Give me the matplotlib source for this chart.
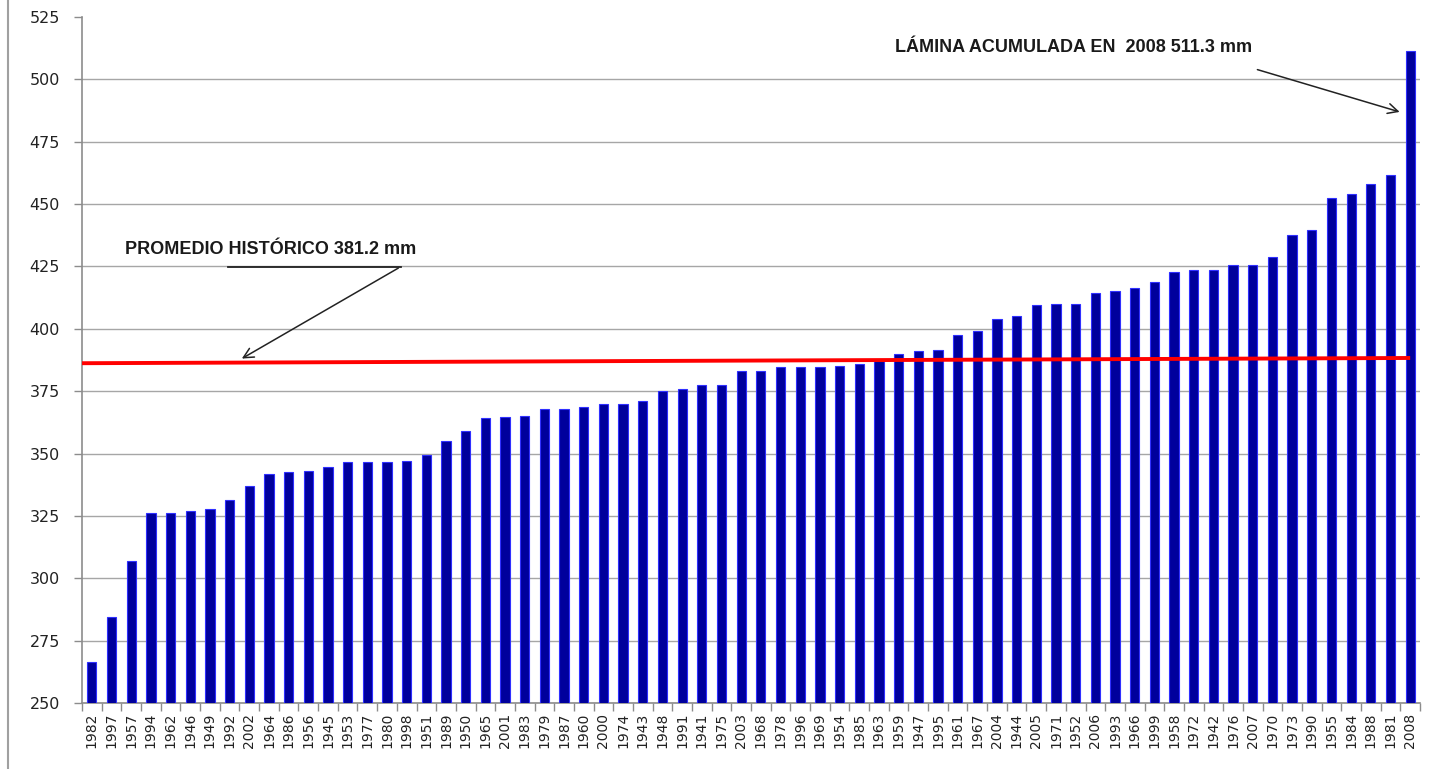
import numpy as np
import matplotlib
matplotlib.use('Agg')
import matplotlib.pyplot as plt
from matplotlib.lines import Line2D

anios = ['1982', '1997', '1957', '1994', '1962', '1946', '1949', '1992', '2002', '1964',
         '1986', '1956', '1945', '1953', '1977', '1980', '1998', '1951', '1989', '1950',
         '1965', '2001', '1983', '1979', '1987', '1960', '2000', '1974', '1943', '1948',
         '1991', '1941', '1975', '2003', '1968', '1978', '1996', '1969', '1954', '1985',
         '1963', '1959', '1947', '1995', '1961', '1967', '2004', '1944', '2005', '1971',
         '1952', '2006', '1993', '1966', '1999', '1958', '1972', '1942', '1976', '2007',
         '1970', '1973', '1990', '1955', '1984', '1988', '1981', '2008']

lamina = [266.5, 284.3, 307.1, 326.1, 326.1, 327.0, 327.6, 331.2, 337.1, 341.8,
          342.4, 342.9, 344.5, 346.7, 346.7, 346.7, 347.2, 349.3, 355.0, 359.2,
          364.2, 364.8, 365.2, 368.0, 368.0, 368.5, 370.0, 370.0, 370.9, 375.1,
          375.8, 377.4, 377.4, 383.0, 383.0, 384.6, 384.6, 384.6, 385.1, 385.7,
          386.9, 389.9, 391.0, 391.5, 397.6, 399.2, 404.1, 405.1, 409.4, 410.0,
          410.0, 414.5, 415.2, 416.3, 418.8, 422.6, 423.7, 423.7, 425.6, 425.6,
          428.9, 437.6, 439.6, 452.3, 453.9, 458.1, 461.7, 511.3]

# linea roja del promedio (extremos como aparece en la grafica)
promedio_x = [-0.5, 67]
promedio_y = [386.2, 388.3]

fig = plt.figure(figsize=(14.39, 7.69), dpi=100)
ax = fig.add_axes([0.057, 0.0858, 0.9298, 0.8922])

x = np.arange(len(anios))
ax.bar(x, lamina, width=0.47, color='#00009C', edgecolor='#2F2FFF', linewidth=0.8, zorder=3)
ax.plot(promedio_x, promedio_y, color='#FF0000', linewidth=2.8, zorder=4, solid_capstyle='butt')

ax.set_xlim(-0.5, len(anios) - 0.5)
ax.set_ylim(250, 525)
ax.set_yticks(np.arange(250, 526, 25))
ax.yaxis.grid(True, color='#A6A6A6', linewidth=1.0, zorder=0)
ax.get_ygridlines()[-1].set_visible(False)
ax.set_axisbelow(True)

ax.set_xticks(x)
ax.set_xticklabels(anios, rotation=90, fontsize=10, color='#222222')
ax.set_xticks(np.arange(-0.5, len(anios), 1), minor=True)
ax.tick_params(axis='x', which='major', length=0, pad=7)
ax.tick_params(axis='x', which='minor', length=6, color='#8C8C8C', width=1)
ax.tick_params(axis='y', length=6, color='#8C8C8C', width=1, labelsize=11.5, labelcolor='#222222', pad=10)

for s in ['top', 'right']:
    ax.spines[s].set_visible(False)
for s in ['left', 'bottom']:
    ax.spines[s].set_color('#8C8C8C')
    ax.spines[s].set_linewidth(1.2)

fnt = dict(family='Liberation Sans', fontweight='bold', fontsize=13, color='#1A1A1A')
ax.text(1.7, 431.6, 'PROMEDIO HISTÓRICO 381.2 mm', va='center', ha='left', **fnt)
ax.plot([6.9, 15.7], [424.9, 424.9], color='#222222', linewidth=1.3, zorder=5)
ax.annotate('', xy=(7.5, 387.5), xytext=(15.7, 424.9),
            arrowprops=dict(arrowstyle='->', color='#222222', lw=1.1, mutation_scale=18))

ax.text(40.8, 512.6, 'LÁMINA ACUMULADA EN  2008 511.3 mm', va='center', ha='left', **fnt)
ax.annotate('', xy=(66.6, 486.6), xytext=(59.1, 504.2),
            arrowprops=dict(arrowstyle='->', color='#222222', lw=1.1, mutation_scale=18))

fig.add_artist(Line2D([8 / 1439, 8 / 1439], [0, 1], color='#A0A0A0', linewidth=1.5))

fig.savefig('out.png', dpi=100)
